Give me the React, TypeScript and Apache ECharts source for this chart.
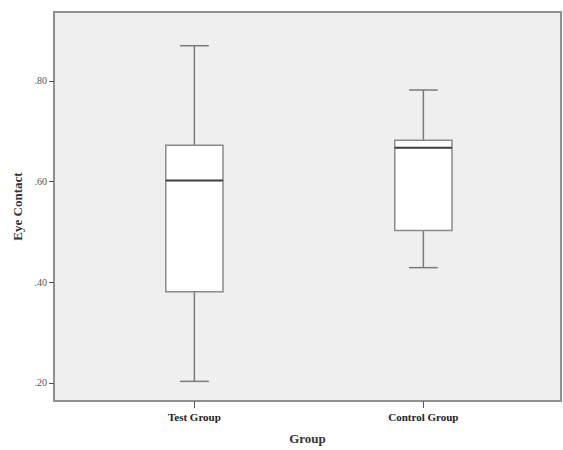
import React, { useEffect, useRef } from 'react';
import * as echarts from 'echarts';

const categories = ['Test Group', 'Control Group'];
const xPositions = [1, 2];
const minValues = [0.203, 0.429];
const q1Values = [0.381, 0.503];
const medianValues = [0.602, 0.667];
const q3Values = [0.672, 0.682];
const maxValues = [0.87, 0.782];
const yTickValues = [0.2, 0.4, 0.6, 0.8];
const yTickLabels = ['.20', '.40', '.60', '.80'];

const SERIF = '"Liberation Serif", "DejaVu Serif", serif';

export default function App() {
  const ref = useRef<HTMLDivElement>(null);
  useEffect(() => {
    if (!ref.current) return;
    const chart = echarts.init(ref.current, null, { renderer: 'svg' });
    const data = xPositions.map((x, i) => [
      x,
      minValues[i],
      q1Values[i],
      medianValues[i],
      q3Values[i],
      maxValues[i],
    ]);
    chart.setOption({
      animation: false,
      backgroundColor: '#ffffff',
      grid: {
        left: 54,
        top: 12,
        right: 2,
        bottom: 44,
        show: true,
        backgroundColor: '#efefef',
        borderColor: '#8f8f8f',
        borderWidth: 2,
      },
      xAxis: {
        type: 'value',
        min: 0.387,
        max: 2.601,
        name: 'Group',
        nameLocation: 'middle',
        nameGap: 31,
        nameTextStyle: { fontFamily: SERIF, fontSize: 13, fontWeight: 'bold', color: '#333' },
        axisLine: { show: false },
        splitLine: { show: false },
        axisTick: {
          show: true,
          customValues: xPositions,
          length: 7,
          lineStyle: { color: '#555', width: 1 },
        },
        axisLabel: {
          customValues: xPositions,
          margin: 10,
          fontFamily: SERIF,
          fontSize: 11,
          fontWeight: 'bold',
          color: '#222',
          formatter: (v: number) => categories[xPositions.indexOf(v)] ?? '',
        },
      },
      yAxis: {
        type: 'value',
        min: 0.164,
        max: 0.937,
        name: 'Eye Contact',
        nameLocation: 'middle',
        nameGap: 28,
        nameTextStyle: { fontFamily: SERIF, fontSize: 13, fontWeight: 'bold', color: '#333' },
        axisLine: { show: false },
        splitLine: { show: false },
        axisTick: {
          show: true,
          customValues: yTickValues,
          length: 5,
          lineStyle: { color: '#555', width: 1 },
        },
        axisLabel: {
          customValues: yTickValues,
          margin: 7,
          fontFamily: SERIF,
          fontSize: 10,
          color: '#555',
          formatter: (v: number) => {
            const idx = yTickValues.findIndex((t) => Math.abs(t - v) < 1e-9);
            return idx >= 0 ? yTickLabels[idx] : '';
          },
        },
      },
      series: [
        {
          type: 'custom',
          data,
          encode: { x: 0, y: [1, 2, 3, 4, 5] },
          renderItem: (params: any, api: any) => {
            const x = api.value(0);
            const lo = api.coord([x, api.value(1)]);
            const q1 = api.coord([x, api.value(2)]);
            const med = api.coord([x, api.value(3)]);
            const q3 = api.coord([x, api.value(4)]);
            const hi = api.coord([x, api.value(5)]);
            const bw = api.size([0.25, 0])[0];
            const cw = api.size([0.126, 0])[0];
            const cx = lo[0];
            const whisker = { stroke: '#7a7a7a', lineWidth: 1.5 };
            return {
              type: 'group',
              children: [
                { type: 'line', shape: { x1: cx, y1: hi[1], x2: cx, y2: q3[1] }, style: whisker },
                { type: 'line', shape: { x1: cx, y1: q1[1], x2: cx, y2: lo[1] }, style: whisker },
                { type: 'line', shape: { x1: cx - cw / 2, y1: hi[1], x2: cx + cw / 2, y2: hi[1] }, style: whisker },
                { type: 'line', shape: { x1: cx - cw / 2, y1: lo[1], x2: cx + cw / 2, y2: lo[1] }, style: whisker },
                {
                  type: 'rect',
                  shape: { x: cx - bw / 2, y: q3[1], width: bw, height: q1[1] - q3[1] },
                  style: { fill: '#ffffff', stroke: '#8a8a8a', lineWidth: 1.5 },
                },
                {
                  type: 'line',
                  shape: { x1: cx - bw / 2, y1: med[1], x2: cx + bw / 2, y2: med[1] },
                  style: { stroke: '#3c3c3c', lineWidth: 2 },
                },
              ],
            };
          },
        },
      ],
    });
    return () => chart.dispose();
  }, []);
  return <div ref={ref} style={{ width: 563, height: 450, position: 'absolute', left: 0, top: 0 }} />;
}
